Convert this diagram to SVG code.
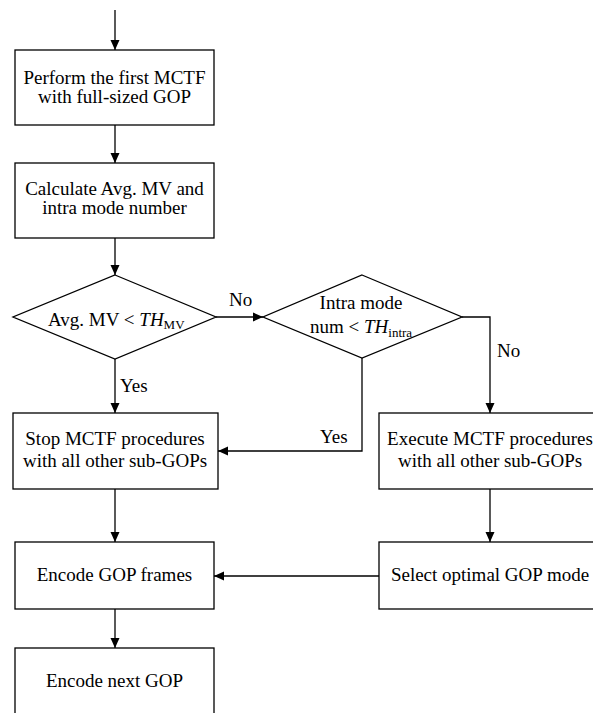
<svg xmlns="http://www.w3.org/2000/svg" width="593" height="713" viewBox="0 0 593 713">
<defs>
<marker id="arr" markerUnits="userSpaceOnUse" markerWidth="12" markerHeight="12" viewBox="0 0 12 12" refX="11" refY="6" orient="auto">
<path d="M1,1.5 L11,6 L1,10.5 Z" fill="#000"/>
</marker>
</defs>
<style>
.box{fill:#fff;stroke:#000;stroke-width:1.3}
.t{font-size:19px;fill:#000}
.m{text-anchor:middle}
.sub{font-size:13px}
.c{fill:none;stroke:#000;stroke-width:1.3}
</style>
<rect width="593" height="713" fill="#fff"/>
<g font-family="'Liberation Serif', 'DejaVu Serif', serif">
<g id="connectors">
<line class="c" x1="115" y1="10" x2="115" y2="50" marker-end="url(#arr)"/>
<line class="c" x1="115" y1="125" x2="115" y2="163" marker-end="url(#arr)"/>
<line class="c" x1="115" y1="238" x2="115" y2="275" marker-end="url(#arr)"/>
<line class="c" x1="216" y1="317" x2="263" y2="317" marker-end="url(#arr)"/>
<text class="t" x="229" y="306">No</text>
<line class="c" x1="115" y1="359" x2="115" y2="413" marker-end="url(#arr)"/>
<text class="t" x="120" y="392">Yes</text>
<polyline class="c" points="462,317 490,317 490,413" marker-end="url(#arr)"/>
<text class="t" x="497" y="357">No</text>
<polyline class="c" points="362,358 362,451 218,451" marker-end="url(#arr)"/>
<text class="t" x="320" y="443">Yes</text>
<line class="c" x1="115" y1="489" x2="115" y2="542" marker-end="url(#arr)"/>
<line class="c" x1="490" y1="489" x2="490" y2="542" marker-end="url(#arr)"/>
<line class="c" x1="379" y1="576" x2="214" y2="576" marker-end="url(#arr)"/>
<line class="c" x1="115" y1="609" x2="115" y2="648" marker-end="url(#arr)"/>
</g>
<g id="n1">
<rect class="box" x="15" y="50" width="199" height="75"/>
<text class="t m" x="114.5" y="84">Perform the first MCTF</text>
<text class="t m" x="114.5" y="103">with full-sized GOP</text>
</g>
<g id="n2">
<rect class="box" x="15" y="163" width="199" height="75"/>
<text class="t m" x="114.5" y="195">Calculate Avg. MV and</text>
<text class="t m" x="114.5" y="214">intra mode number</text>
</g>
<g id="n3">
<polygon class="box" points="115,275 216,317 115,359 13,317"/>
<text class="t" x="48" y="326">Avg. MV &lt; <tspan font-style="italic">TH</tspan><tspan class="sub" dy="3">MV</tspan></text>
</g>
<g id="n4">
<polygon class="box" points="362,275 462,317 362,358 263,317"/>
<text class="t m" x="361" y="309">Intra mode</text>
<text class="t" x="310" y="333">num &lt; <tspan font-style="italic">TH</tspan><tspan class="sub" dy="4">intra</tspan></text>
</g>
<g id="n5">
<rect class="box" x="13" y="413" width="205" height="76"/>
<text class="t m" x="115" y="445">Stop MCTF procedures</text>
<text class="t m" x="115" y="467">with all other sub-GOPs</text>
</g>
<g id="n6">
<rect class="box" x="379" y="413" width="222" height="76"/>
<text class="t m" x="490" y="445">Execute MCTF procedures</text>
<text class="t m" x="490" y="467">with all other sub-GOPs</text>
</g>
<g id="n7">
<rect class="box" x="15" y="542" width="199" height="67"/>
<text class="t m" x="114.5" y="581">Encode GOP frames</text>
</g>
<g id="n8">
<rect class="box" x="379" y="542" width="222" height="67"/>
<text class="t m" x="490" y="581">Select optimal GOP mode</text>
</g>
<g id="n9">
<rect class="box" x="15" y="648" width="199" height="80"/>
<text class="t m" x="114.5" y="687">Encode next GOP</text>
</g>
</g>
</svg>
